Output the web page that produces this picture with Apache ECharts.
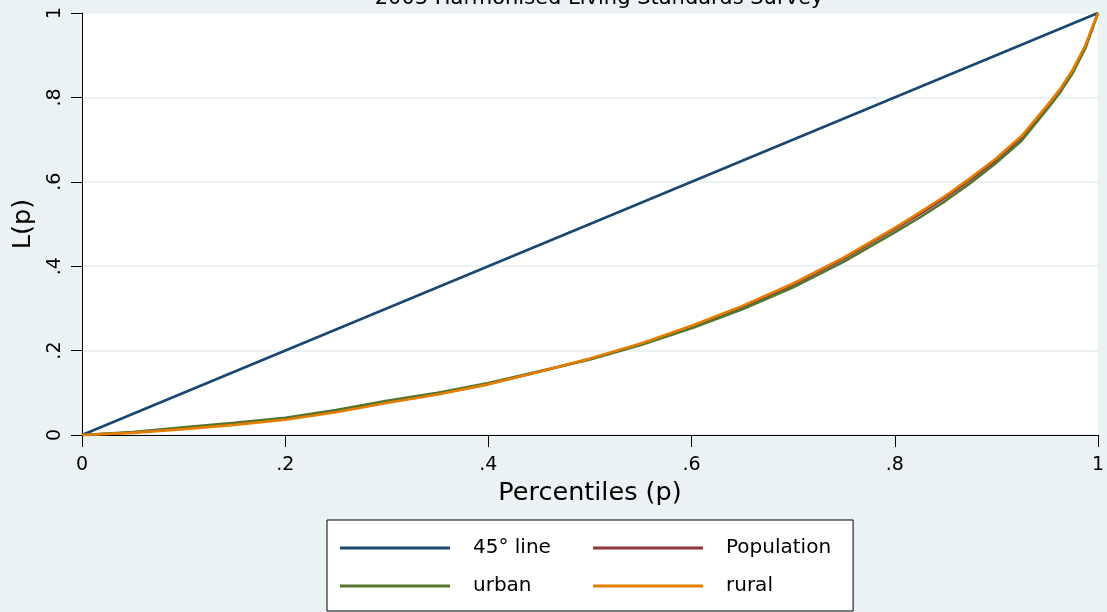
<!DOCTYPE html>
<html>
<head>
<meta charset="utf-8">
<title>Lorenz curves</title>
<script src="https://cdn.jsdelivr.net/npm/echarts@6/dist/echarts.min.js"></script>
<style>
  html, body { margin: 0; padding: 0; background: #EAF2F3; }
  #chart { width: 1107px; height: 612px; }
</style>
</head>
<body>
<div id="chart"></div>
<script>
// Cumulative population share (p) at which each Lorenz curve is sampled
const pGrid = [0, 0.05, 0.1, 0.15, 0.2, 0.25, 0.3, 0.35, 0.4, 0.45, 0.5, 0.55,
               0.6, 0.65, 0.7, 0.75, 0.8, 0.825, 0.85, 0.875, 0.9, 0.925,
               0.95, 0.9625, 0.975, 0.9875, 1];

// Cumulative income share L(p)
const populationL = [0, 0.006, 0.016, 0.026, 0.038, 0.056, 0.078, 0.097, 0.121, 0.150, 0.180, 0.215,
                     0.257, 0.303, 0.356, 0.418, 0.488, 0.524, 0.563, 0.606, 0.652, 0.705,
                     0.778, 0.816, 0.862, 0.920, 1];
const urbanL      = [0, 0.007, 0.018, 0.029, 0.041, 0.059, 0.081, 0.100, 0.123, 0.151, 0.179, 0.213,
                     0.253, 0.298, 0.350, 0.411, 0.480, 0.516, 0.555, 0.598, 0.645, 0.698,
                     0.772, 0.811, 0.857, 0.916, 1];
const ruralL      = [0, 0.005, 0.014, 0.024, 0.036, 0.054, 0.076, 0.096, 0.120, 0.150, 0.181, 0.217,
                     0.259, 0.306, 0.359, 0.421, 0.491, 0.528, 0.567, 0.610, 0.656, 0.709,
                     0.781, 0.819, 0.865, 0.923, 1];

// Line of perfect equality
const equalityP = [0, 1];
const equalityL = [0, 1];

// Axis ticks and their labels
const tickValues = [0, 0.2, 0.4, 0.6, 0.8, 1];
const tickLabels = ['0', '.2', '.4', '.6', '.8', '1'];

const seriesNames = ['45\u00b0 line', 'Population', 'urban', 'rural'];
const seriesColors = ['#1a476f', '#90353b', '#55752f', '#e37e00'];

const titleText = '2003 Harmonised Living Standards Survey';
const xTitle = 'Percentiles (p)';
const yTitle = 'L(p)';

const FONT = 'DejaVu Sans';

function pairs(xs, ys) {
  return xs.map((x, i) => [x, ys[i]]);
}

function tickLabel(v) {
  let best = 0;
  tickValues.forEach((t, i) => {
    if (Math.abs(t - v) < Math.abs(tickValues[best] - v)) best = i;
  });
  return tickLabels[best];
}

const seriesData = [
  pairs(equalityP, equalityL),
  pairs(pGrid, populationL),
  pairs(pGrid, urbanL),
  pairs(pGrid, ruralL)
];

const chart = echarts.init(document.getElementById('chart'), null, { renderer: 'canvas' });

chart.setOption({
  animation: false,
  backgroundColor: '#EAF2F3',
  color: seriesColors,
  graphic: [{
    type: 'text',
    x: 599,
    y: -12,
    z: 100,
    style: {
      text: titleText,
      align: 'center',
      verticalAlign: 'top',
      font: '21px "' + FONT + '"',
      fill: '#000'
    }
  }],
  grid: {
    left: 82, right: 9, top: 13, bottom: 177,
    show: true, backgroundColor: '#ffffff', borderWidth: 0
  },
  xAxis: {
    type: 'value', min: 0, max: 1, interval: 0.2,
    name: xTitle, nameLocation: 'middle', nameGap: 42,
    nameTextStyle: { fontFamily: FONT, fontSize: 25.5, color: '#000' },
    axisLine: { show: true, onZero: false, lineStyle: { color: '#000', width: 1 } },
    axisTick: { show: true, inside: false, length: 12, lineStyle: { color: '#000', width: 1 } },
    axisLabel: { margin: 21, fontFamily: FONT, fontSize: 19, color: '#000', formatter: tickLabel },
    splitLine: { show: false }
  },
  yAxis: {
    type: 'value', min: 0, max: 1, interval: 0.2,
    name: yTitle, nameLocation: 'middle', nameGap: 46,
    nameTextStyle: { fontFamily: FONT, fontSize: 25.5, color: '#000' },
    axisLine: { show: true, onZero: false, lineStyle: { color: '#000', width: 1 } },
    axisTick: { show: true, inside: false, length: 11, lineStyle: { color: '#000', width: 1 } },
    axisLabel: { margin: 17, rotate: 90, fontFamily: FONT, fontSize: 19, color: '#000', formatter: tickLabel },
    splitLine: { show: true, lineStyle: { color: '#EAF2F3', width: 2 } }
  },
  legend: {
    data: seriesNames,
    orient: 'horizontal',
    left: 327, top: 520, width: 500,
    padding: [18, 22, 15, 13],
    itemGap: 18,
    itemWidth: 110, itemHeight: 3,
    icon: 'rect',
    backgroundColor: '#ffffff',
    borderColor: '#000', borderWidth: 1,
    selectedMode: false,
    textStyle: {
      fontFamily: FONT, fontSize: 20, color: '#000',
      width: 102, lineHeight: 20, padding: [0, 0, 0, 18]
    }
  },
  series: seriesNames.map((name, i) => ({
    name: name,
    type: 'line',
    data: seriesData[i],
    symbol: 'none',
    smooth: false,
    lineStyle: { width: 2.6, color: seriesColors[i] },
    itemStyle: { color: seriesColors[i] },
    z: 2 + i
  }))
});
</script>
</body>
</html>
